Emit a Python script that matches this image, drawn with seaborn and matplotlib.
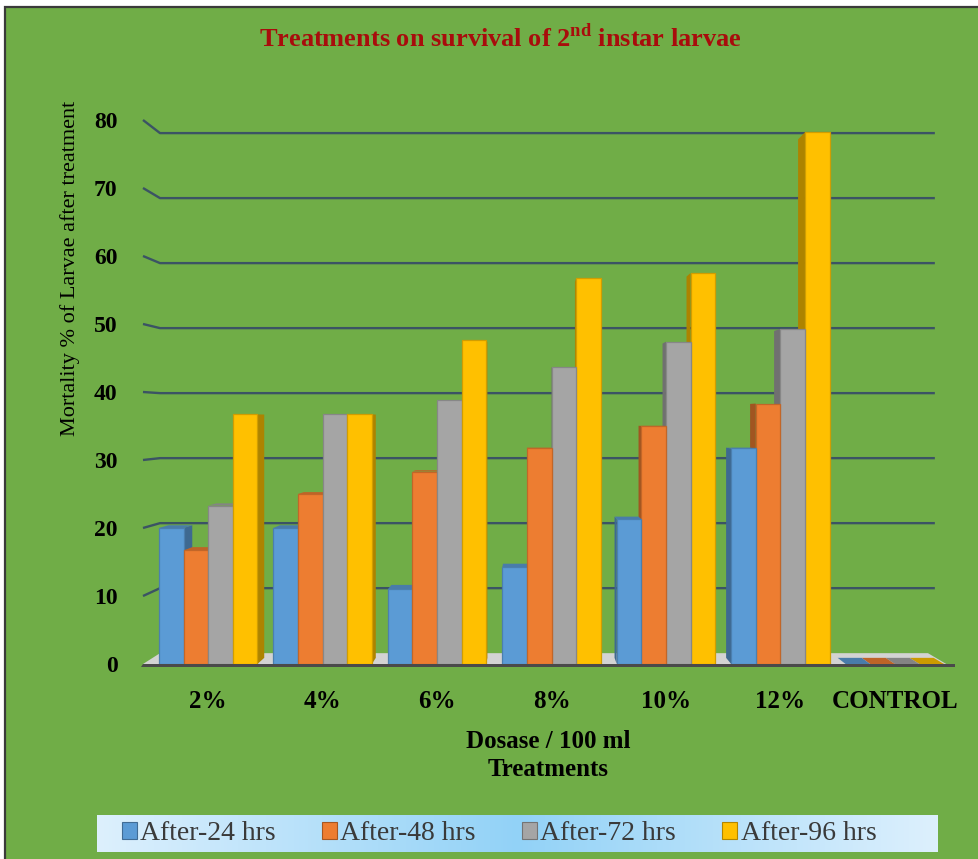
import numpy as np
import pandas as pd
import matplotlib
matplotlib.use("Agg")
import matplotlib.pyplot as plt
import seaborn as sns
from matplotlib.patches import Polygon, Rectangle, Patch
from matplotlib.colors import to_rgb

# ---- data -------------------------------------------------------------
treatments = ["2%", "4%", "6%", "8%", "10%", "12%", "CONTROL"]
periods = ["After-24 hrs", "After-48 hrs", "After-72 hrs", "After-96 hrs"]
after_24 = [20.0, 20.0, 11.0, 14.2, 21.3, 31.7, 0.0]
after_48 = [16.7, 25.0, 28.3, 31.7, 35.0, 38.3, 0.0]
after_72 = [23.3, 36.7, 38.8, 43.7, 47.4, 49.3, 0.0]
after_96 = [36.7, 36.7, 47.6, 56.7, 57.5, 78.2, 0.0]
y_ticks = [0, 10, 20, 30, 40, 50, 60, 70, 80]

colors = ["#5B9BD5", "#ED7D31", "#A5A5A5", "#FFC000"]

df = pd.DataFrame({
    "Treatment": treatments * 4,
    "Period": [p for p in periods for _ in treatments],
    "Mortality": after_24 + after_48 + after_72 + after_96,
})

# ---- style ------------------------------------------------------------
sns.set_style("white")
plt.rcParams["font.family"] = ["Liberation Serif", "DejaVu Serif"]
plt.rcParams["mathtext.fontset"] = "custom"
plt.rcParams["mathtext.rm"] = "Liberation Serif:bold"
plt.rcParams["mathtext.bf"] = "Liberation Serif:bold"

W, H = 979, 859
fig = plt.figure(figsize=(W / 100, H / 100), dpi=100)
fig.patch.set_facecolor("white")

# green chart area with a dark frame
fig.patches.append(Rectangle((5 / W, -0.02), 1.05, 1.02 - 7 / H,
                             transform=fig.transFigure, facecolor="#70AD47",
                             edgecolor="#3A3A3A", lw=1.6, zorder=-10))

ax = fig.add_axes([151 / W, (H - 664) / H, (952 - 151) / W, 544 / H])
ax.set_facecolor("none")

sns.barplot(data=df, x="Treatment", y="Mortality", hue="Period",
            palette=colors, hue_order=periods, order=treatments,
            width=0.86, saturation=1, errorbar=None, legend=False, ax=ax)

ax.set_xlim(-0.5, 6.5)
ax.set_ylim(0, 80)
for s in ax.spines.values():
    s.set_visible(False)

# ---- pseudo 3D view ---------------------------------------------------
VIEW_X, VIEW_Y = 2.81, 36.2      # vanishing centre in data units
K_WALL, K_BAR = 0.956, 0.975     # depth scale of back wall and of bar backs


def proj(x, y, k):
    return (VIEW_X + k * (x - VIEW_X), VIEW_Y + k * (y - VIEW_Y))


# back-wall gridlines
x_front_l, x_back_r = -0.57, 6.35
for v in y_ticks[1:]:
    bx, by = proj(x_front_l, v, K_WALL)
    ax.plot([x_front_l, bx, x_back_r], [v, by, by], color="#3B5364", lw=1.7,
            zorder=1, clip_on=False, solid_capstyle="butt")

# floor slab
fl, fr = -0.57, 6.45
p_l, p_r = proj(fl, 0, K_WALL), proj(fr, 0, K_WALL)
ax.add_patch(Polygon([(fl, 0), (fr, 0), p_r, p_l], closed=True,
                     facecolor="#D3D3D3", edgecolor="none", zorder=1.5,
                     clip_on=False))
ax.add_patch(Polygon([(fl, 0), (fr + 0.08, 0), (fr + 0.08, -0.5), (fl - 0.02, -0.5)],
                     closed=True, facecolor="#4A4A4A", edgecolor="none",
                     zorder=1.6, clip_on=False))


def shade(c, f):
    return tuple(np.clip(np.array(to_rgb(c)) * f, 0, 1))


for bar in list(ax.patches):
    if not isinstance(bar, Rectangle) or bar.get_width() > 1:
        continue
    x0, w, h = bar.get_x(), bar.get_width(), bar.get_height()
    x1 = x0 + w
    fc = bar.get_facecolor()[:3]
    z = 10 - abs(x0 + w / 2 - VIEW_X)
    bar.set_zorder(z)
    bar.set_edgecolor(shade(fc, 0.82))
    bar.set_linewidth(0.9)
    # visible side face
    if x1 <= VIEW_X:
        xs = x1
    elif x0 >= VIEW_X:
        xs = x0
    else:
        xs = None
    if xs is not None:
        side = [(xs, 0), (xs, h), proj(xs, h, K_BAR), proj(xs, 0, K_BAR)]
        ax.add_patch(Polygon(side, closed=True, facecolor=shade(fc, 0.68),
                             edgecolor="none", zorder=z - 0.001, clip_on=False))
    # top face when seen from above
    if h < VIEW_Y:
        top = [(x0, h), (x1, h), proj(x1, h, K_BAR), proj(x0, h, K_BAR)]
        ax.add_patch(Polygon(top, closed=True, facecolor=shade(fc, 0.8),
                             edgecolor="none", zorder=z - 0.0005, clip_on=False))

# ---- axes text --------------------------------------------------------
ax.set_yticks(y_ticks)
ax.set_yticklabels([str(t) for t in y_ticks])
ax.set_xticks(range(len(treatments)))
ax.set_xticklabels(treatments)
ax.tick_params(axis="y", length=0, pad=24, labelsize=17, labelcolor="black")
ax.tick_params(axis="x", length=0, pad=19, labelsize=18, labelcolor="black")
for lbl in ax.get_xticklabels() + ax.get_yticklabels():
    lbl.set_fontweight("bold")
ax.set_xlabel("")
ax.set_ylabel("")

fig.text(70 / W, 1 - 268 / H, "Mortality % of Larvae after treatment",
         rotation=90, ha="center", va="center", fontsize=16, color="black")
fig.text(548 / W, 1 - 742 / H, "Dosase / 100 ml", ha="center", va="center",
         fontsize=18, fontweight="bold", color="black")
fig.text(548 / W, 1 - 769 / H, "Treatments", ha="center", va="center",
         fontsize=18, fontweight="bold", color="black")
fig.text(500 / W, 1 - 38 / H,
         r"Treatments on survival of 2$^{\mathbf{nd}}$ instar larvae",
         ha="center", va="center", fontsize=19, fontweight="bold",
         color="#A80C0C")

# ---- legend on a light-blue gradient band ------------------------------
lax = fig.add_axes([97 / W, (H - 852) / H, (938 - 97) / W, 37 / H])
t = np.abs(np.linspace(-1, 1, 400))
edge = np.array(to_rgb("#DDF0FD"))
mid = np.array(to_rgb("#92D2F7"))
grad = (mid[None, :] * (1 - t[:, None]) + edge[None, :] * t[:, None])[None, :, :]
lax.imshow(grad, aspect="auto", extent=[0, 1, 0, 1])
lax.set_xlim(0, 1)
lax.set_ylim(0, 1)
lax.axis("off")
handles = [Patch(facecolor=c, edgecolor=shade(c, 0.7), lw=0.8) for c in colors]
lax.legend(handles, periods, ncol=4, loc="center", bbox_to_anchor=(0.478, 0.5),
           frameon=False, fontsize=20, handlelength=0.55, handleheight=0.55,
           handletextpad=0.12, columnspacing=1.65, labelcolor="#3A3A3A",
           borderpad=0)

fig.savefig("out.png", dpi=100, facecolor=fig.get_facecolor())
